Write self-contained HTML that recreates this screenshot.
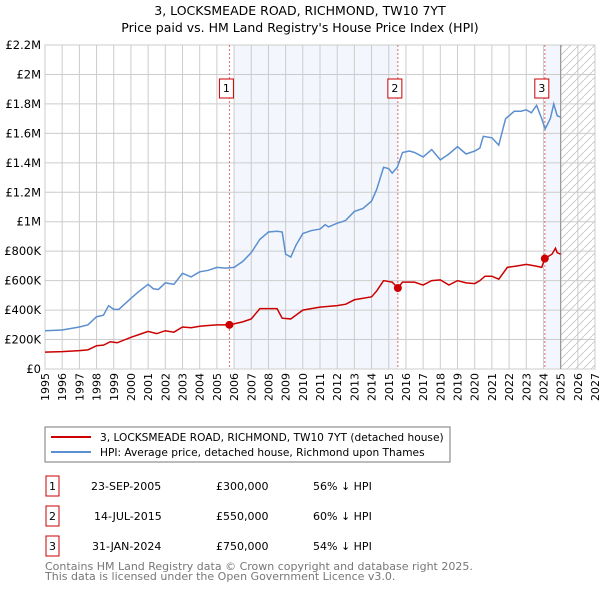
<!DOCTYPE html>
<html><head><meta charset="utf-8"><style>
body{margin:0;background:#fff;font-family:"Liberation Sans","DejaVu Sans",sans-serif;}
svg text{font-family:"DejaVu Sans","Liberation Sans",sans-serif;}
</style></head><body>
<svg id="c" width="600" height="590" xmlns="http://www.w3.org/2000/svg">
<text x="300" y="15" text-anchor="middle" font-size="12.5">3, LOCKSMEADE ROAD, RICHMOND, TW10 7YT</text>
<text x="300" y="32" text-anchor="middle" font-size="12.5">Price paid vs. HM Land Registry's House Price Index (HPI)</text>
<defs><pattern id="h" width="8" height="8" patternUnits="userSpaceOnUse"><path d="M0,8 L8,0" stroke="#ccc" stroke-width="1"/></pattern></defs>
<g id="plot"></g>
<rect x="45" y="427" width="405" height="35" fill="#fff" stroke="#777"/>
<line x1="51" y1="437" x2="91" y2="437" stroke="#cc0000" stroke-width="2"/>
<text x="100" y="441" font-size="10.6">3, LOCKSMEADE ROAD, RICHMOND, TW10 7YT (detached house)</text>
<line x1="51" y1="452" x2="91" y2="452" stroke="#5b8fd0" stroke-width="2"/>
<text x="100" y="456" font-size="10.6">HPI: Average price, detached house, Richmond upon Thames</text>
<g font-size="11">
<rect x="46" y="476" width="13" height="20" fill="none" stroke="#cc0000"/><text x="52.5" y="490" text-anchor="middle">1</text>
<text x="91" y="490">23-SEP-2005</text><text x="216" y="490">£300,000</text><text x="313" y="490">56% ↓ HPI</text>
<rect x="46" y="506" width="13" height="20" fill="none" stroke="#cc0000"/><text x="52.5" y="520" text-anchor="middle">2</text>
<text x="94" y="520">14-JUL-2015</text><text x="216" y="520">£550,000</text><text x="313" y="520">60% ↓ HPI</text>
<rect x="46" y="536" width="13" height="20" fill="none" stroke="#cc0000"/><text x="52.5" y="550" text-anchor="middle">3</text>
<text x="92" y="550">31-JAN-2024</text><text x="216" y="550">£750,000</text><text x="313" y="550">54% ↓ HPI</text>
</g>
<text x="45" y="570" font-size="11" fill="#777">Contains HM Land Registry data © Crown copyright and database right 2025.</text>
<text x="45" y="580" font-size="11" fill="#777">This data is licensed under the Open Government Licence v3.0.</text>
</svg>
<script>
const yTicks=[0,200000,400000,600000,800000,1000000,1200000,1400000,1600000,1800000,2000000,2200000];
const yTickLabels=["£0","£200K","£400K","£600K","£800K","£1M","£1.2M","£1.4M","£1.6M","£1.8M","£2M","£2.2M"];
const xYears=[1995,1996,1997,1998,1999,2000,2001,2002,2003,2004,2005,2006,2007,2008,2009,2010,2011,2012,2013,2014,2015,2016,2017,2018,2019,2020,2021,2022,2023,2024,2025,2026,2027];
const hpiX=[1995,1996,1997,1997.5,1998,1998.4,1998.7,1999,1999.3,2000,2000.5,2001,2001.3,2001.6,2002,2002.5,2003,2003.5,2004,2004.5,2005,2005.5,2006,2006.5,2007,2007.5,2008,2008.5,2008.8,2009,2009.3,2009.6,2010,2010.5,2011,2011.3,2011.5,2012,2012.3,2012.5,2013,2013.5,2014,2014.3,2014.7,2015,2015.2,2015.5,2015.8,2016.2,2016.5,2017,2017.5,2018,2018.5,2019,2019.5,2020,2020.3,2020.5,2021,2021.4,2021.8,2022.3,2022.7,2023,2023.3,2023.6,2023.9,2024.1,2024.4,2024.6,2024.8,2025];
const hpiV=[260000,265000,285000,300000,355000,365000,430000,405000,405000,480000,530000,575000,545000,540000,585000,575000,650000,625000,660000,670000,690000,685000,690000,730000,790000,880000,930000,935000,930000,780000,760000,840000,920000,940000,950000,980000,965000,990000,1000000,1010000,1070000,1090000,1140000,1220000,1370000,1360000,1330000,1370000,1470000,1480000,1470000,1440000,1490000,1420000,1460000,1510000,1460000,1480000,1500000,1580000,1570000,1520000,1700000,1750000,1750000,1760000,1740000,1790000,1700000,1630000,1700000,1800000,1720000,1710000];
const priceX=[1995,1996,1997,1997.5,1998,1998.4,1998.8,1999.2,2000,2000.5,2001,2001.5,2002,2002.5,2003,2003.5,2004,2004.5,2005,2005.73,2006.5,2007,2007.5,2008,2008.5,2008.8,2009.3,2010,2011,2012,2012.5,2013,2014,2014.3,2014.7,2015.2,2015.53,2015.8,2016.5,2017,2017.5,2018,2018.5,2019,2019.5,2020,2020.3,2020.6,2021,2021.4,2021.9,2022.5,2023,2023.5,2023.9,2024.08,2024.5,2024.7,2024.8,2025];
const priceV=[115000,118000,125000,130000,158000,162000,185000,178000,215000,235000,255000,240000,260000,250000,285000,280000,290000,295000,300000,300000,320000,340000,410000,410000,410000,345000,340000,400000,420000,430000,440000,470000,490000,530000,600000,590000,550000,590000,590000,570000,600000,605000,570000,600000,585000,580000,600000,630000,630000,610000,690000,700000,710000,700000,690000,750000,780000,820000,790000,780000];
const sales=[2005.73,2015.53,2024.08];
const saleV=[300000,550000,750000];
const saleLabels=["1","2","3"];
const L=45,R=595,T=45,B=369;
const x=v=>L+(v-1995)/(2027-1995)*(R-L);
const y=v=>B-v/2200000*(B-T);
const g=document.getElementById('plot');
const NS="http://www.w3.org/2000/svg";
function mk(t,a,p){const e=document.createElementNS(NS,t);for(const k in a)e.setAttribute(k,a[k]);(p||g).appendChild(e);return e;}
let e;
e=mk('rect',{x:x(sales[0])+5,y:T,width:x(sales[1])-x(sales[0])-5,height:B-T,fill:'#eef3fc',opacity:0.7});


e=mk('rect',{x:x(sales[2]),y:T,width:x(2025)-x(sales[2]),height:B-T,fill:'#eef3fc',opacity:0.7});


e=mk('rect',{x:x(2025),y:T,width:R-x(2025),height:B-T,fill:'url(#h)'});


xYears.forEach(v=>{e=mk('line',{x1:x(v),y1:T,x2:x(v),y2:B,stroke:'#ccc'});


e=mk('text',{x:0,y:0,'font-size':11,'text-anchor':'end',transform:`translate(${x(v)+4},${B+4}) rotate(-90)`});e.textContent=v;

});
yTicks.forEach((v,i)=>{e=mk('line',{x1:L,y1:y(v),x2:R,y2:y(v),stroke:'#ccc'});


e=mk('text',{x:L-4,y:y(v)+4,'font-size':11.5,'text-anchor':'end'});e.textContent=yTickLabels[i];

});
e=mk('rect',{x:L,y:T,width:R-L,height:B-T,fill:'none',stroke:'#ccc'});


e=mk('line',{x1:x(2025),y1:T,x2:x(2025),y2:B,stroke:'#999','stroke-width':1.2});


sales.forEach((s,i)=>{e=mk('line',{x1:x(s),y1:T,x2:x(s),y2:B,stroke:'#e06a6a','stroke-dasharray':'2,2'});

});
e=mk('polyline',{points:hpiX.map((v,i)=>x(v)+','+y(hpiV[i])).join(' '),fill:'none',stroke:'#5b8fd0','stroke-width':1.5});


e=mk('polyline',{points:priceX.map((v,i)=>x(v)+','+y(priceV[i])).join(' '),fill:'none',stroke:'#cc0000','stroke-width':1.5});


sales.forEach((s,i)=>{e=mk('circle',{cx:x(s),cy:y(saleV[i]),r:4,fill:'#cc0000'});


e=mk('rect',{x:x(s)-10,y:79,width:14,height:19,fill:'#fff',stroke:'#cc0000'});


e=mk('text',{x:x(s)-3,y:92,'font-size':11,'text-anchor':'middle'});e.textContent=saleLabels[i];

});
</script>
</body></html>
